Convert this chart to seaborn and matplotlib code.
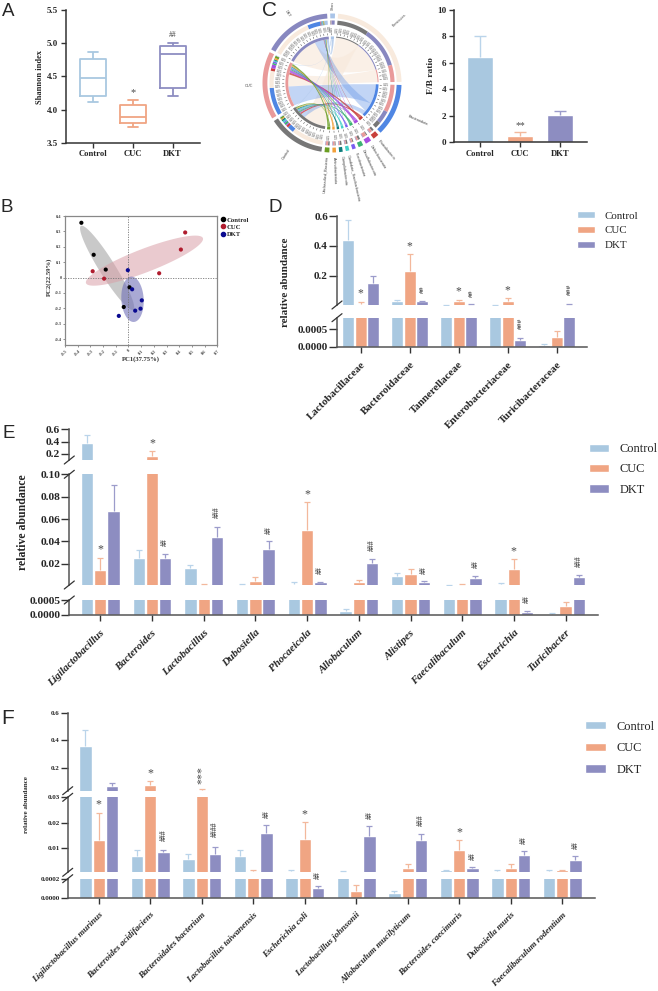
import numpy as np
import pandas as pd
import matplotlib
matplotlib.use("Agg")
import matplotlib.pyplot as plt
from matplotlib.lines import Line2D
from matplotlib.patches import Patch, PathPatch, Polygon
from matplotlib.path import Path
import seaborn as sns

W, H = 658, 991
GROUPS = ["Control", "CUC", "DKT"]
FILL = {"Control": "#A9C8E0", "CUC": "#F0A583", "DKT": "#8D8DC1"}
WHISK = ["#BAD4EA", "#F3B89C", "#9C9CCB"]
INK = "#333333"

# Shannon index box summaries: min, Q1, median, Q3, max
SHANNON_CONTROL = [4.12, 4.21, 4.47, 4.76, 4.86]
SHANNON_CUC = [3.74, 3.79, 3.88, 4.07, 4.15]
SHANNON_DKT = [4.20, 4.33, 4.84, 4.96, 5.01]

# F/B ratio
FB_MEAN = [6.45, 0.45, 2.1]
FB_TOP = [8.0, 0.75, 2.4]

# PCoA sample scores
PC_CONTROL_X = [-0.371, -0.274, -0.179, 0.008, -0.037]
PC_CONTROL_Y = [0.356, 0.148, 0.052, -0.063, -0.191]
PC_CUC_X = [0.447, 0.413, 0.242, -0.282, -0.192]
PC_CUC_Y = [0.293, 0.182, 0.028, 0.041, -0.007]
PC_DKT_X = [-0.005, 0.029, 0.105, 0.095, 0.053, -0.076]
PC_DKT_Y = [0.048, -0.076, -0.148, -0.202, -0.215, -0.249]

# Family level
D_TAXA = ["Lactobacillaceae", "Bacteroidaceae", "Tannerellaceae", "Enterobacteriaceae", "Turicibacteraceae"]
D_CONTROL = [0.44, 0.03, 0.006, 0.006, 0.00005]
D_CUC = [0.015, 0.23, 0.03, 0.033, 0.00028]
D_DKT = [0.155, 0.03, 0.007, 0.0002, 0.01]
D_CONTROL_TOP = [0.575, 0.04, 0.008, 0.008, 0.00007]
D_CUC_TOP = [0.027, 0.345, 0.04, 0.05, 0.00043]
D_DKT_TOP = [0.2, 0.035, 0.009, 0.00025, 0.0105]
D_MARKS = [(0, 1, "*"), (1, 1, "*"), (1, 2, "##"), (2, 1, "*"), (2, 2, "##"), (3, 1, "*"), (3, 2, "###"), (4, 2, "###")]

# Genus level
E_TAXA = ["Ligilactobacillus", "Bacteroides", "Lactobacillus", "Dubosiella", "Phocaeicola",
          "Allobaculum", "Alistipes", "Faecalibaculum", "Escherichia", "Turicibacter"]
E_CONTROL = [0.38, 0.025, 0.016, 0.0012, 0.002, 0.00014, 0.0087, 0.001, 0.0018, 0.00005]
E_CUC = [0.014, 0.16, 0.0015, 0.005, 0.05, 0.0035, 0.0107, 0.0015, 0.0155, 0.0003]
E_DKT = [0.067, 0.025, 0.044, 0.033, 0.0035, 0.0205, 0.0033, 0.0072, 0.00011, 0.0078]
E_CONTROL_TOP = [0.5, 0.032, 0.0185, 0.002, 0.0035, 0.0002, 0.0113, 0.0013, 0.0024, 0.00007]
E_CUC_TOP = [0.0255, 0.24, 0.002, 0.008, 0.075, 0.0055, 0.015, 0.002, 0.024, 0.00045]
E_DKT_TOP = [0.09, 0.029, 0.053, 0.04, 0.004, 0.024, 0.0042, 0.0093, 0.00015, 0.0095]
E_MARKS = [(0, 1, "*"), (1, 1, "*"), (1, 2, "##"), (2, 2, "###"), (3, 2, "##"), (4, 1, "*"), (4, 2, "##"),
           (5, 2, "###"), (6, 2, "##"), (7, 2, "##"), (8, 1, "*"), (8, 2, "##"), (9, 2, "###")]

# Species level
F_TAXA = ["Ligilactobacillus murinus", "Bacteroides acidifaciens", "Bacteroidales bacterium",
          "Lactobacillus taiwanensis", "Escherichia coli", "Lactobacillus johnsonii",
          "Allobaculum mucilyticum", "Bacteroides caecimuris", "Dubosiella muris", "Faecalibaculum rodentium"]
F_CONTROL = [0.36, 0.0068, 0.0058, 0.0068, 0.0008, 0.0007, 0.000046, 0.0012, 0.0008, 0.0009]
F_CUC = [0.013, 0.07, 0.034, 0.0009, 0.0135, 0.00007, 0.0019, 0.0093, 0.0021, 0.0013]
F_DKT = [0.063, 0.0083, 0.0078, 0.016, 0.000105, 0.0148, 0.0131, 0.0021, 0.0074, 0.0053]
F_CONTROL_TOP = [0.475, 0.0092, 0.0075, 0.0093, 0.0014, 0.0009, 0.000067, 0.0015, 0.0012, 0.0012]
F_CUC_TOP = [0.024, 0.1, 0.045, 0.0015, 0.0202, 0.000137, 0.0036, 0.0131, 0.0036, 0.0015]
F_DKT_TOP = [0.085, 0.0093, 0.0103, 0.019, 0.00012, 0.0185, 0.0154, 0.0024, 0.0087, 0.0067]
F_MARKS = [(0, 1, "*"), (1, 1, "*"), (1, 2, "###"), (2, 1, "***"), (2, 2, "####"), (3, 2, "##"), (4, 1, "*"),
           (4, 2, "##"), (5, 2, "##"), (6, 2, "###"), (7, 1, "*"), (7, 2, "##"), (8, 2, "##"), (9, 2, "##")]

# Chord diagram: phylum-by-group flows
PHYLA = ["Others", "Firmicutes", "Bacteroidota", "Proteobacteria", "Deferribacterota",
         "Desulfobacterota", "Fusobacteriota", "Candidate_Saccharibacteria", "Campilobacterota",
         "Actinobacteriota", "Unclassified_Bacteria"]
PHYLA_COLORS = ["#A9C4E8", "#F8EADD", "#4F86E3", "#C8403C", "#A64FE0", "#3CB371", "#7A5CF0",
                "#40CFC8", "#0E7C7B", "#F2A03A", "#6B9E23"]
FLOW_CONTROL = [0.5, 30, 6, 2, 1, 2, 1, 1.5, 1.5, 1, 1.5]
FLOW_CUC = [0.5, 16, 26, 2.5, 3.5, 1.5, 1.5, 1, 1, 1.5, 2]
FLOW_DKT = [3, 38, 12, 0.5, 0.5, 0.5, 0.5, 0.5, 0.5, 0.5, 0.5]
GROUP_RING = ["#777777", "#E99A9A", "#8888C0"]

sns.set_style("white")
plt.rcParams["font.family"] = ["Liberation Serif", "DejaVu Sans"]
plt.rcParams["axes.unicode_minus"] = False

fig = plt.figure(figsize=(W / 100, H / 100), dpi=100)


def px_axes(left, top, right, bottom, **kw):
    return fig.add_axes([left / W, 1 - bottom / H, (right - left) / W, (bottom - top) / H], **kw)


def px_text(x, y, s, **kw):
    kw.setdefault("ha", "center")
    kw.setdefault("va", "center")
    return fig.text(x / W, 1 - y / H, s, **kw)


def style_spines(ax, color=INK, lw=1.1):
    sns.despine(ax=ax)
    for side in ("left", "bottom"):
        ax.spines[side].set_color(color)
        ax.spines[side].set_linewidth(lw)


def upper_error(ax, xs, means, tops, colors, capsize=1.9, lw=0.9, window=None):
    for x, m, t, c in zip(xs, means, tops, colors):
        # on a broken axis only the segment holding part of the whisker draws it
        if window is not None and (t <= window[0] or m >= window[1]):
            continue
        _, caps, _ = ax.errorbar(x, m, yerr=[[0], [t - m]], color=c, capsize=capsize, elinewidth=lw, capthick=lw,
                                 zorder=1.5)
        caps[0].set_visible(False)


def sig_mark(ax, x, y, sym, size, dy_px, rotate=False, color="#4A4A4A", weight="normal"):
    ax.annotate(sym, (x, y), xytext=(0, dy_px * 0.72), textcoords="offset points", ha="center", va="center",
                fontsize=size, rotation=90 if rotate else 0, color=color, annotation_clip=False,
                fontweight=weight, rotation_mode="anchor" if rotate else "default", zorder=5)


def broken_bars(taxa, series, tops, marks, left, right, first_tick, step, segments, tick_size, tick_len, xlabel_size,
                italic, ylabel_x, ylabel_y, ylabel_size, legend_xy, legend_size, legend_gap, mark_size):
    n = len(taxa)
    frame = pd.DataFrame({
        "taxon": np.tile(taxa, 3),
        "group": np.repeat(GROUPS, n),
        "value": np.concatenate(series),
    })
    xlim = ((left - first_tick) / step, (right - first_tick) / step)
    width = 0.77
    offs = np.array([-width / 3, 0, width / 3])
    axes = []
    for i, (top_px, bot_px, ylim, ticks, labels) in enumerate(segments):
        ax = px_axes(left, top_px, right, bot_px)
        sns.barplot(data=frame, x="taxon", y="value", hue="group", hue_order=GROUPS, palette=FILL, order=taxa,
                    width=width, gap=0.07, saturation=1, errorbar=None, legend=False, ax=ax)
        for k in range(3):
            upper_error(ax, np.arange(n) + offs[k], series[k], tops[k], [WHISK[k]] * n, window=ylim)
        ax.set_xlim(*xlim)
        ax.set_ylim(*ylim)
        ax.set_yticks(ticks, labels, fontweight="bold", fontsize=tick_size)
        ax.set_xlabel("")
        ax.set_ylabel("")
        style_spines(ax, color="#555555")
        ax.tick_params(axis="y", left=True, length=tick_len, width=1.0, color=INK, pad=1)
        if i == len(segments) - 1:
            ax.set_xticks(range(n), taxa, rotation=45, ha="right", va="top", rotation_mode="anchor",
                          fontweight="bold", fontsize=xlabel_size, fontstyle="italic" if italic else "normal")
            ax.tick_params(axis="x", bottom=True, length=4.5, width=1.0, color=INK, pad=5)
        else:
            ax.set_xticks([])
            ax.spines["bottom"].set_visible(False)
        axes.append(ax)

    # slanted break marks on the shared value axis
    for (top_a, bot_a, *_), (top_b, *_) in zip(segments[:-1], segments[1:]):
        for y in (bot_a, top_b):
            fig.add_artist(Line2D([(left - 5) / W, (left + 5) / W], [1 - (y + 4) / H, 1 - (y - 4) / H],
                                  color=INK, lw=0.9))

    # significance marks sit over the whisker, inside whichever segment holds it
    for g, k, sym in marks:
        top_val = tops[k][g]
        for ax, seg in zip(axes, segments):
            lo, hi = seg[2]
            if lo <= top_val <= hi:
                is_hash = sym[0] == "#"
                dy = 5.5 + 3.0 * len(sym) if is_hash else 5.0 + 3.0 * len(sym)
                size = mark_size if is_hash else mark_size + 3
                sig_mark(ax, g + offs[k], top_val, sym, size, dy, rotate=len(sym) > 1, weight="bold" if is_hash else "normal")
                break

    px_text(ylabel_x, ylabel_y, "relative abundance", rotation=90, fontweight="bold", fontsize=ylabel_size)
    handles = [Patch(facecolor=FILL[g], label=g) for g in GROUPS]
    fig.legend(handles=handles, loc="upper left", bbox_to_anchor=(legend_xy[0] / W, 1 - legend_xy[1] / H),
               frameon=False, fontsize=legend_size, borderpad=0, borderaxespad=0, handlelength=legend_xy[2],
               handleheight=0.65, handletextpad=legend_xy[3], labelspacing=legend_gap)
    return axes


# --- A: Shannon index ---
ax = px_axes(66, 10, 200, 142.7)
box = pd.DataFrame({
    "group": np.repeat(GROUPS, 5),
    "value": SHANNON_CONTROL + SHANNON_CUC + SHANNON_DKT,
})
sns.boxplot(data=box, x="group", y="value", hue="group", palette=FILL, fill=False, width=0.65, whis=(0, 100),
            linewidth=1.3, legend=False, dodge=False, capwidths=0.25, saturation=1, ax=ax)
ax.set_xlim((66 - 92.7) / 40, (200 - 92.7) / 40)
ax.set_ylim(3.5, 5.5)
ax.set_yticks([3.5, 4.0, 4.5, 5.0, 5.5], ["3.5", "4.0", "4.5", "5.0", "5.5"], fontweight="bold", fontsize=6.4)
ax.set_xticks(range(3), GROUPS, fontweight="bold", fontsize=6.2)
ax.set_xlabel("")
ax.set_ylabel("")
style_spines(ax)
ax.tick_params(axis="both", left=True, bottom=True, length=3.5, width=1.0, color=INK, pad=2)
sig_mark(ax, 1, SHANNON_CUC[-1], "*", 7.5, 7)
sig_mark(ax, 2, SHANNON_DKT[-1], "##", 5.5, 8)
px_text(40.5, 76.5, "Shannon index", rotation=90, fontweight="bold", fontsize=6)


# --- C: chord diagram ---
flows = np.array([FLOW_CONTROL, FLOW_CUC, FLOW_DKT]).T
chord_r = 69.5
span_px = 100
ax = px_axes(332 - span_px, 83 - span_px, 332 + span_px, 83 + span_px)
ax.set_xlim(-span_px / chord_r, span_px / chord_r)
ax.set_ylim(-span_px / chord_r, span_px / chord_r)
ax.axis("off")
ax.patch.set_alpha(0)

GAP = 2.57
scale = (360 - GAP * 14) / (2 * flows.sum())


def polar(a, r):
    t = np.radians(a)
    return r * np.sin(t), r * np.cos(t)


def ring(a0, a1, r0, r1, color, z=3):
    t = np.linspace(a0, a1, max(6, int(abs(a1 - a0) * 2)))
    xo, yo = polar(t, r1)
    xi, yi = polar(t[::-1], r0)
    ax.add_patch(Polygon(np.c_[np.r_[xo, xi], np.r_[yo, yi]], closed=True, fc=color, ec="none", zorder=z))


def ribbon(arc_a, arc_b, r_a, r_b, color, alpha, z, pull=0.3):
    ta = np.linspace(*arc_a, 16)
    tb = np.linspace(*arc_b, 16)
    xa, ya = polar(ta, r_a)
    xb, yb = polar(tb, r_b)
    verts = list(zip(xa, ya))
    codes = [Path.MOVETO] + [Path.LINETO] * 15
    verts += [(pull * (xa[-1] + xb[0]) / 2, pull * (ya[-1] + yb[0]) / 2), (xb[0], yb[0])]
    codes += [Path.CURVE3, Path.CURVE3]
    verts += list(zip(xb[1:], yb[1:]))
    codes += [Path.LINETO] * 15
    verts += [(pull * (xb[-1] + xa[0]) / 2, pull * (yb[-1] + ya[0]) / 2), (xa[0], ya[0])]
    codes += [Path.CURVE3, Path.CURVE3]
    ax.add_patch(PathPatch(Path(verts, codes), fc=color, ec="none", alpha=alpha, zorder=z))


def ticks_band(a0, a1):
    for a in np.arange(a0 + 1, a1, 4.2):
        x0, y0 = polar(a, 0.69)
        x1, y1 = polar(a, 0.715)
        ax.plot([x0, x1], [y0, y1], color="#444444", lw=0.35, zorder=3)
        xt, yt = polar(a, 0.73)
        rot = 90 - a if a <= 180 else 270 - a
        ax.text(xt, yt, "0.25", fontsize=2.3, color="#555555", rotation=rot, rotation_mode="anchor",
                ha="left" if a <= 180 else "right", va="center", family="Liberation Sans", zorder=3)


def sector_label(a, r, s, size=2.8):
    x, y = polar(a, r)
    rot = 90 - a if a <= 180 else 270 - a
    ax.text(x, y, s, fontsize=size, color="#444444", rotation=rot, rotation_mode="anchor",
            ha="left" if a <= 180 else "right", va="center", family="Liberation Sans", zorder=3)


PHYLUM_ORDER = {1: [0, 2, 1], 2: [1, 2, 0]}
GROUP_ORDER = {0: [1, 2] + list(range(3, 11)) + [0], 1: [2, 1] + list(range(3, 11)) + [0],
               2: [1, 2] + list(range(3, 11)) + [0]}
phylum_arc, group_arc = {}, {}

cursor = -1.5
for p, name in enumerate(PHYLA):
    span = flows[p].sum() * scale
    a0, a1 = cursor, cursor + span
    ring(a0, a1, 0.93, 1.0, PHYLA_COLORS[p])
    sub = a0
    for g in PHYLUM_ORDER.get(p, [0, 1, 2]):
        s = flows[p, g] * scale
        phylum_arc[p, g] = (sub, sub + s)
        ring(sub, sub + s, 0.84, 0.90, GROUP_RING[g])
        if p == 1:
            ring(sub, sub + s, 0.655, 0.67, GROUP_RING[g])
        sub += s
    if p != 1:
        ring(a0, a1, 0.63, 0.67, PHYLA_COLORS[p])
    ticks_band(a0, a1)
    if p == 0:
        sector_label((a0 + a1) / 2, 1.05, name, size=2.2)
    else:
        sector_label((a0 + a1) / 2, 1.06 if p > 2 else 1.2, name)
    cursor = a1 + GAP

for g, name in enumerate(GROUPS):
    span = flows[:, g].sum() * scale
    a0, a1 = cursor, cursor + span
    ring(a0, a1, 0.93, 1.0, GROUP_RING[g])
    ring(a0, a1, 0.63, 0.67, GROUP_RING[g])
    sub = a0
    for p in GROUP_ORDER[g]:
        s = flows[p, g] * scale
        group_arc[p, g] = (sub, sub + s)
        ring(sub, sub + s, 0.84, 0.90, PHYLA_COLORS[p])
        sub += s
    ticks_band(a0, a1)
    sector_label((a0 + a1) / 2, 1.13, name)
    cursor = a1 + GAP

for g in range(3):
    ribbon(phylum_arc[1, g], group_arc[1, g], 0.655, 0.63, "#F8EADD", 0.7, 1)
for g in range(3):
    ribbon(phylum_arc[2, g], group_arc[2, g], 0.63, 0.63, "#6E9BE8", 0.42, 1.2)
for p in [0] + list(range(3, 11)):
    for g in range(3):
        ribbon(phylum_arc[p, g], group_arc[p, g], 0.63, 0.63, PHYLA_COLORS[p], 0.8, 2)


# --- C, right: F/B ratio ---
ax = px_axes(454, 10, 586.7, 142.3)
fb = pd.DataFrame({"group": GROUPS, "value": FB_MEAN})
sns.barplot(data=fb, x="group", y="value", hue="group", palette=FILL, width=0.667, saturation=1, errorbar=None,
            legend=False, dodge=False, ax=ax)
upper_error(ax, range(3), FB_MEAN, FB_TOP, WHISK, capsize=4.3, lw=1.0)
ax.set_xlim((454 - 480) / 40, (586.7 - 480) / 40)
ax.set_ylim(0, 10)
ax.set_yticks([0, 2, 4, 6, 8, 10], ["0", "2", "4", "6", "8", "10"], fontweight="bold", fontsize=6.6)
ax.set_xticks(range(3), GROUPS, fontweight="bold", fontsize=6.2)
ax.set_xlabel("")
ax.set_ylabel("")
style_spines(ax)
ax.tick_params(axis="both", left=True, bottom=True, length=3.5, width=1.0, color=INK, pad=2)
sig_mark(ax, 1, FB_TOP[1], "**", 7, 7)
px_text(430.7, 76, "F/B ratio", rotation=90, fontweight="bold", fontsize=6.8)


# --- B: PCoA ---
ax = px_axes(65, 216, 217.3, 345.3)
ax.set_xlim(-0.5, 0.7)
ax.set_ylim(-0.44, 0.4)
scores = pd.DataFrame({
    "PC1": PC_CONTROL_X + PC_CUC_X + PC_DKT_X,
    "PC2": PC_CONTROL_Y + PC_CUC_Y + PC_DKT_Y,
    "group": ["Control"] * 5 + ["CUC"] * 5 + ["DKT"] * 6,
})
PC_COLORS = {"Control": "#000000", "CUC": "#B01C2E", "DKT": "#0A0A90"}


def conf_ellipse(center, major, minor, color, alpha):
    t = np.linspace(0, 2 * np.pi, 120)
    c, u, v = map(np.asarray, (center, major, minor))
    pts = c + np.outer(np.cos(t), u) + np.outer(np.sin(t), v)
    ax.fill(pts[:, 0], pts[:, 1], color=color, alpha=alpha, lw=0, zorder=1)


conf_ellipse((-0.168, 0.063), (0.2066, -0.273), (0.0537, 0.0275), "#9E9E9E", 0.55)
conf_ellipse((0.126, 0.11), (0.4605, 0.1464), (0.033, -0.071), "#D9A0A8", 0.55)
conf_ellipse((0.032, -0.141), (0.008, -0.1475), (0.088, 0.0), "#7070B8", 0.6)
ax.axhline(0, color="#777777", lw=0.6, ls=(0, (1.5, 1.5)), zorder=1.5)
ax.axvline(0, color="#777777", lw=0.6, ls=(0, (1.5, 1.5)), zorder=1.5)
sns.scatterplot(data=scores, x="PC1", y="PC2", hue="group", palette=PC_COLORS, s=9, edgecolor="none",
                legend=False, ax=ax, zorder=3)
xt = np.round(np.arange(-0.5, 0.71, 0.1), 1)
ax.set_xticks(xt, ["0" if v == 0 else f"{v:.1f}" for v in xt], rotation=45, fontsize=3.2, fontweight="bold",
              color="#444444")
yt = np.round(np.arange(-0.4, 0.41, 0.1), 1)
ax.set_yticks(yt, ["0" if v == 0 else f"{v:.1f}" for v in yt], fontsize=3.2, fontweight="bold", color="#444444")
ax.tick_params(axis="both", bottom=True, left=True, length=1.5, width=0.5, color="#666666", pad=1)
ax.set_xlabel("")
ax.set_ylabel("")
for s in ax.spines.values():
    s.set_color("#888888")
    s.set_linewidth(0.9)
px_text(140.7, 359, "PC1(37.75%)", fontsize=4.8, fontweight="bold", color="#333333")
px_text(49.3, 277, "PC2(22.59%)", fontsize=4.8, fontweight="bold", color="#333333", rotation=90)
ax.legend(handles=[Line2D([], [], ls="", marker="o", ms=3.0, color=PC_COLORS[g], label=g) for g in GROUPS],
          loc="upper left", bbox_to_anchor=(220 / W, 1 - 217 / H), bbox_transform=fig.transFigure, frameon=False,
          prop={"size": 4.8, "weight": "bold"}, borderpad=0, borderaxespad=0, handlelength=0.9, handletextpad=0.1,
          labelspacing=0.22)


# --- D: family ---
broken_bars(
    D_TAXA, [D_CONTROL, D_CUC, D_DKT], [D_CONTROL_TOP, D_CUC_TOP, D_DKT_TOP], D_MARKS,
    337, 586.7, 360.7, 49.0,
    [(216, 305, (0.005, 0.6), [0.2, 0.4, 0.6], ["0.2", "0.4", "0.6"]),
     (317.7, 346.7, (0, 0.00082), [0, 0.0005], ["0.0000", "0.0005"])],
    8.0, 5.5, 7.8, False, 286, 282, 7.9, (577, 211, 1.6, 0.9), 7.9, 0.48, 5.4)

# --- E: genus ---
broken_bars(
    E_TAXA, [E_CONTROL, E_CUC, E_DKT], [E_CONTROL_TOP, E_CUC_TOP, E_DKT_TOP], E_MARKS,
    69.3, 598, 100.3, 51.7,
    [(429.3, 460, (0.1, 0.6), [0.2, 0.4, 0.6], ["0.2", "0.4", "0.6"]),
     (474.3, 585, (0.001, 0.1), [0.02, 0.04, 0.06, 0.08, 0.10], ["0.02", "0.04", "0.06", "0.08", "0.10"]),
     (600, 615, (0, 0.0005), [0, 0.0005], ["0.0000", "0.0005"])],
    8.2, 5.5, 7.8, True, 23, 522, 8.5, (588.7, 443, 1.65, 0.85), 8.9, 0.68, 5.6)

# --- F: species ---
broken_bars(
    F_TAXA, [F_CONTROL, F_CUC, F_DKT], [F_CONTROL_TOP, F_CUC_TOP, F_DKT_TOP], F_MARKS,
    67.7, 595, 98.7, 51.5,
    [(713, 790.7, (0.03, 0.6), [0.2, 0.4, 0.6], ["0.2", "0.4", "0.6"]),
     (797.3, 872.3, (0.0004, 0.03), [0.01, 0.02, 0.03], ["0.01", "0.02", "0.03"]),
     (878.7, 897.7, (0, 0.0002), [0, 0.0002], ["0.0000", "0.0002"])],
    5.0, 4.8, 6.5, True, 27, 805, 5.0, (585, 720.5, 1.7, 0.85), 8.9, 0.78, 5.6)

# Panel letters
for x, y, s, size in [(2, 12, "A", 13.5), (1, 207, "B", 13.5), (262, 10, "C", 15), (268, 207, "D", 13.5),
                      (2, 433, "E", 13.5), (1, 719, "F", 15)]:
    px_text(x, y, s, ha="left", fontsize=size, family="Liberation Sans")

fig.savefig("out.png", dpi=100)
